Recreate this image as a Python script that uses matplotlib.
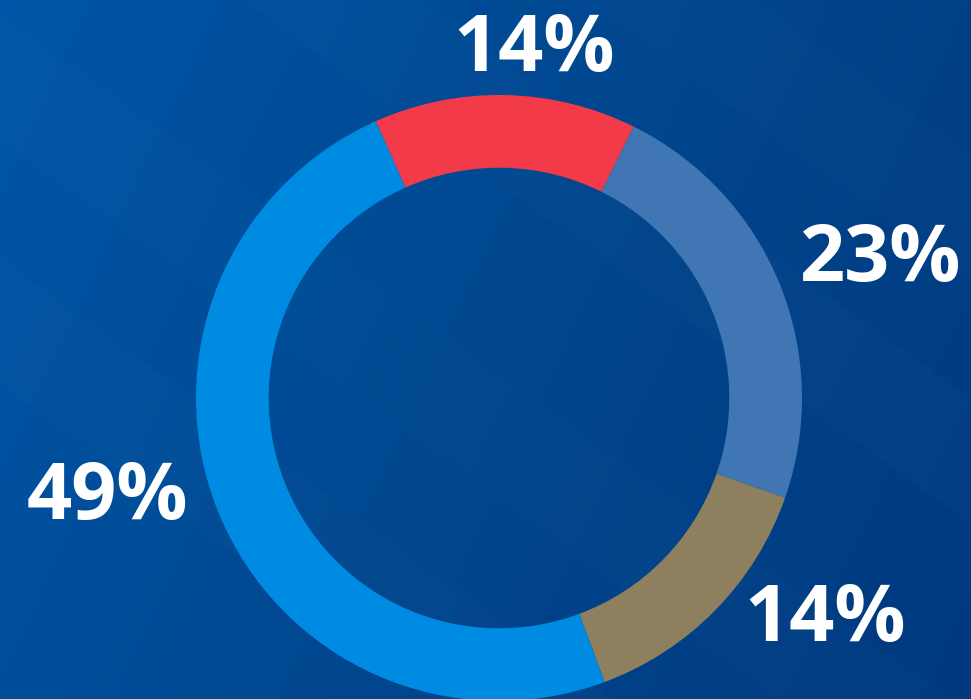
import numpy as np
import matplotlib.pyplot as plt
from matplotlib.colors import LinearSegmentedColormap

# data
labels = ["14%", "23%", "14%", "49%"]
values = [14, 23, 14, 49]
colors = ["#F23A48", "#3F76B3", "#8E7F5E", "#008BE2"]

W, H = 971, 699
fig = plt.figure(figsize=(W / 100, H / 100), dpi=100)

# background gradient
bg = fig.add_axes([0, 0, 1, 1])
bg.set_axis_off()
xx, yy = np.meshgrid(np.linspace(0, 1, 300), np.linspace(0, 1, 300))
grad = 0.75 * xx + 0.25 * yy
cmap = LinearSegmentedColormap.from_list("bg", ["#0056A8", "#00478F", "#00397F"])
bg.imshow(grad, cmap=cmap, extent=[0, 1, 0, 1], aspect="auto", origin="upper")
# faint diagonal bands
for off, a in [(-0.55, 0.05), (-0.2, 0.04), (0.25, 0.05), (0.6, 0.04)]:
    bg.fill([off, off + 0.18, off + 1.18, off + 1.0], [1, 1, 0, 0],
            color="white", alpha=a * 0.3, lw=0)
bg.set_xlim(0, 1)
bg.set_ylim(0, 1)

# donut
cx, cy, r = 499, 398, 303
pad = 1.02
ax = fig.add_axes([(cx - r * pad) / W, (H - cy - r * pad) / H,
                   2 * r * pad / W, 2 * r * pad / H])
ax.pie(values, colors=colors, startangle=114, counterclock=False,
       radius=1, wedgeprops=dict(width=0.24, linewidth=0))
ax.set_xlim(-pad, pad)
ax.set_ylim(-pad, pad)
ax.set_axis_off()

# labels
label_pos = [(534, 51), (880, 261), (825, 620), (107, 499)]
for t, (x, y) in zip(labels, label_pos):
    fig.text(x / W, 1 - y / H, t, color="white", fontsize=57,
             fontfamily="Open Sans", fontweight="bold",
             ha="center", va="center")

fig.savefig("out.png", dpi=100)
